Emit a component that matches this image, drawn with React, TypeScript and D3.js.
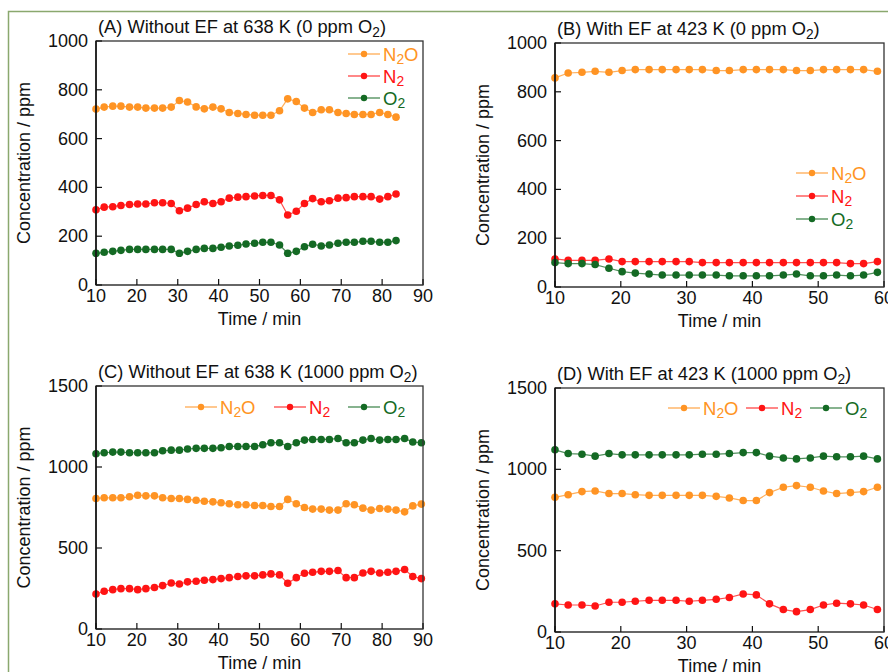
import React from 'react';
import * as d3 from 'd3';

// sampling times (min), shared by all four runs
const TIME = [10, 12.0, 14.1, 16.1, 18.2, 20.2, 22.2, 24.3, 26.3, 28.4, 30.4, 32.4, 34.5, 36.5, 38.6, 40.6, 42.6, 44.7, 46.7, 48.8,
  50.8, 52.8, 54.9, 56.9, 59.0, 61.0, 63.0, 65.1, 67.1, 69.2, 71.2, 73.2, 75.3, 77.3, 79.4, 81.4, 83.4, 85.5, 87.5, 89.6];

// (A) without EF, 638 K, 0 ppm O2
const A_N2O = [721, 729, 733, 733, 729, 729, 725, 725, 725, 729, 756, 750, 730, 722, 729, 722, 707, 703, 699, 696,
  696, 696, 714, 763, 752, 725, 707, 718, 718, 707, 703, 699, 699, 699, 707, 699, 688];
const A_N2 = [308, 319, 321, 326, 330, 332, 332, 337, 337, 334, 304, 315, 330, 341, 334, 341, 356, 360, 362, 365,
  367, 367, 349, 287, 302, 334, 354, 341, 345, 356, 358, 362, 362, 362, 352, 362, 373];
const A_O2 = [130, 134, 138, 142, 146, 146, 146, 146, 146, 146, 130, 138, 146, 150, 150, 155, 160, 163, 168, 171,
  175, 175, 164, 130, 138, 157, 167, 160, 164, 171, 175, 175, 179, 179, 175, 175, 182];

// (B) with EF, 423 K, 0 ppm O2
const B_N2O = [857, 877, 880, 884, 880, 887, 891, 891, 891, 891, 891, 891, 887, 887, 891, 891, 891, 891, 887, 887,
  891, 891, 891, 891, 884];
const B_N2 = [115, 109, 109, 109, 115, 104, 104, 104, 104, 104, 104, 100, 100, 100, 100, 100, 100, 100, 100, 100,
  100, 100, 96, 96, 104];
const B_O2 = [100, 96, 96, 92, 77, 63, 57, 53, 49, 49, 49, 49, 49, 46, 46, 46, 46, 49, 53, 46,
  46, 49, 46, 49, 60];

// (C) without EF, 638 K, 1000 ppm O2
const C_N2O = [806, 810, 810, 810, 816, 826, 822, 822, 810, 806, 806, 800, 795, 789, 785, 779, 773, 767, 767, 762,
  762, 756, 756, 800, 773, 750, 740, 740, 734, 734, 773, 767, 746, 734, 744, 740, 734, 723, 760, 771];
const C_N2 = [216, 233, 243, 249, 249, 243, 249, 256, 268, 284, 278, 291, 295, 301, 305, 311, 317, 324, 328, 328,
  334, 340, 334, 282, 317, 344, 350, 356, 356, 361, 317, 317, 346, 356, 346, 350, 356, 367, 324, 311];
const C_O2 = [1082, 1088, 1092, 1092, 1088, 1088, 1088, 1088, 1100, 1104, 1104, 1111, 1115, 1115, 1115, 1119, 1127, 1127, 1127, 1127,
  1137, 1150, 1150, 1127, 1150, 1166, 1170, 1170, 1170, 1176, 1150, 1150, 1166, 1176, 1166, 1170, 1170, 1176, 1154, 1150];

// (D) with EF, 423 K, 1000 ppm O2
const D_N2O = [828, 844, 863, 867, 851, 851, 844, 840, 840, 840, 840, 840, 834, 824, 808, 808, 857, 890, 900, 890,
  867, 851, 857, 863, 890];
const D_N2 = [173, 166, 166, 160, 183, 183, 189, 195, 195, 195, 189, 195, 201, 212, 234, 228, 173, 138, 125, 138,
  166, 177, 173, 166, 138];
const D_O2 = [1120, 1097, 1093, 1081, 1097, 1089, 1089, 1089, 1089, 1089, 1089, 1093, 1093, 1097, 1103, 1103, 1081, 1070, 1064, 1070,
  1081, 1077, 1077, 1081, 1064];

const SPECIES = ['N2O', 'N2', 'O2'];
const COLORS: Record<string, string> = { N2O: '#ff9424', N2: '#ff1414', O2: '#146a24' };

const FONT = '"Liberation Sans", Arial, sans-serif';

// turns "O2" into O + subscript 2 (digit right after a capital letter)
function chem(str: string, fs: number) {
  const out: React.ReactNode[] = [];
  const shift = fs * 0.2;
  let buf = '';
  let lowered = false;
  const flush = (key: string) => {
    if (!buf) return;
    out.push(<tspan key={key} dy={lowered ? -shift : undefined}>{buf}</tspan>);
    lowered = false;
    buf = '';
  };
  for (let i = 0; i < str.length; i++) {
    const ch = str[i];
    if (/\d/.test(ch) && i > 0 && /[A-Z]/.test(str[i - 1])) {
      flush('t' + i);
      out.push(<tspan key={'s' + i} fontSize={fs * 0.75} dy={shift}>{ch}</tspan>);
      lowered = true;
    } else {
      buf += ch;
    }
  }
  flush('end');
  return out;
}

type Legend = { items: { x: number; y: number }[] };

type PanelProps = {
  title: string;
  left: number; right: number; top: number; bottom: number;
  xMax: number; yMax: number; yStep: number;
  data: number[][];
  legend: Legend;
};

function Panel({ title, left, right, top, bottom, xMax, yMax, yStep, data, legend }: PanelProps) {
  const x = d3.scaleLinear().domain([10, xMax]).range([left, right]);
  const y = d3.scaleLinear().domain([0, yMax]).range([bottom, top]);
  const xTicks = d3.range(10, xMax + 1, 10);
  const yTicks = d3.range(0, yMax + 1, yStep);
  const line = d3.line<number>().x((_, i) => x(TIME[i])).y(d => y(d));
  const fs = 18;

  return (
    <g fontFamily={FONT}>
      <text x={left + 2} y={top - 8} fontSize={18.3} fill="#111">{chem(title, 18.3)}</text>

      {data.map((vals, k) => (
        <g key={k}>
          <path d={line(vals) || ''} fill="none" stroke={COLORS[SPECIES[k]]} strokeWidth={1.2} strokeOpacity={0.75} />
          {vals.map((v, i) => (
            <circle key={i} cx={x(TIME[i])} cy={y(v)} r={3.8} fill={COLORS[SPECIES[k]]} />
          ))}
        </g>
      ))}

      <rect x={left} y={top} width={right - left} height={bottom - top} fill="none" stroke="#333" strokeWidth={1.3} />
      <line x1={left} x2={right} y1={bottom} y2={bottom} stroke="#666" strokeWidth={2} />
      <line x1={left} x2={left} y1={top} y2={bottom} stroke="#111" strokeWidth={1.5} />

      {xTicks.map(t => (
        <g key={t}>
          <line x1={x(t)} x2={x(t)} y1={bottom} y2={bottom - 6} stroke="#111" strokeWidth={1.2} />
          <text x={x(t)} y={bottom + 17} textAnchor="middle" fontSize={fs} fill="#111">{t}</text>
        </g>
      ))}
      {yTicks.map(t => (
        <g key={t}>
          <line x1={left} x2={left + 6} y1={y(t)} y2={y(t)} stroke="#111" strokeWidth={1.2} />
          <text x={left - 8} y={y(t) + 6} textAnchor="end" fontSize={fs} fill="#111">{t}</text>
        </g>
      ))}

      <text x={(left + right) / 2} y={bottom + 39.5} textAnchor="middle" fontSize={fs} fill="#111">Time / min</text>
      <text transform={`translate(${left - 66},${(top + bottom) / 2}) rotate(-90)`} textAnchor="middle" fontSize={fs} fill="#111">
        Concentration / ppm
      </text>

      {legend.items.map((p, k) => {
        const c = COLORS[SPECIES[k]];
        return (
          <g key={k}>
            <line x1={p.x} x2={p.x + 32} y1={p.y} y2={p.y} stroke={c} strokeWidth={1.2} strokeOpacity={0.85} />
            <circle cx={p.x + 16} cy={p.y} r={3.2} fill={c} />
            <text x={p.x + 35} y={p.y + 6.5} fontSize={18.5} fill={c}>{chem(SPECIES[k], 18.5)}</text>
          </g>
        );
      })}
    </g>
  );
}

export default function App() {
  return (
    <svg width={888} height={672} style={{ position: 'fixed', left: 0, top: 0, background: '#fff' }}>
      <rect width={888} height={672} fill="#fff" />
      <path d="M8.5,672 V11.5 H888" fill="none" stroke="#8aa86e" strokeWidth={1.5} />

      <Panel title="(A) Without EF at 638 K (0 ppm O2)" left={96} right={423} top={41} bottom={285}
        xMax={90} yMax={1000} yStep={200} data={[A_N2O, A_N2, A_O2]}
        legend={{ items: [{ x: 348, y: 54 }, { x: 348, y: 76 }, { x: 348, y: 98 }] }} />
      <Panel title="(B) With EF at 423 K (0 ppm O2)" left={555} right={884} top={43} bottom={287}
        xMax={60} yMax={1000} yStep={200} data={[B_N2O, B_N2, B_O2]}
        legend={{ items: [{ x: 796, y: 173 }, { x: 796, y: 196 }, { x: 796, y: 219 }] }} />
      <Panel title="(C) Without EF at 638 K (1000 ppm O2)" left={96} right={423} top={386} bottom={629}
        xMax={90} yMax={1500} yStep={500} data={[C_N2O, C_N2, C_O2]}
        legend={{ items: [{ x: 185, y: 407 }, { x: 274, y: 407 }, { x: 348, y: 407 }] }} />
      <Panel title="(D) With EF at 423 K (1000 ppm O2)" left={555} right={884} top={388} bottom={632}
        xMax={60} yMax={1500} yStep={500} data={[D_N2O, D_N2, D_O2]}
        legend={{ items: [{ x: 668, y: 408 }, { x: 746, y: 408 }, { x: 810, y: 408 }] }} />
    </svg>
  );
}
